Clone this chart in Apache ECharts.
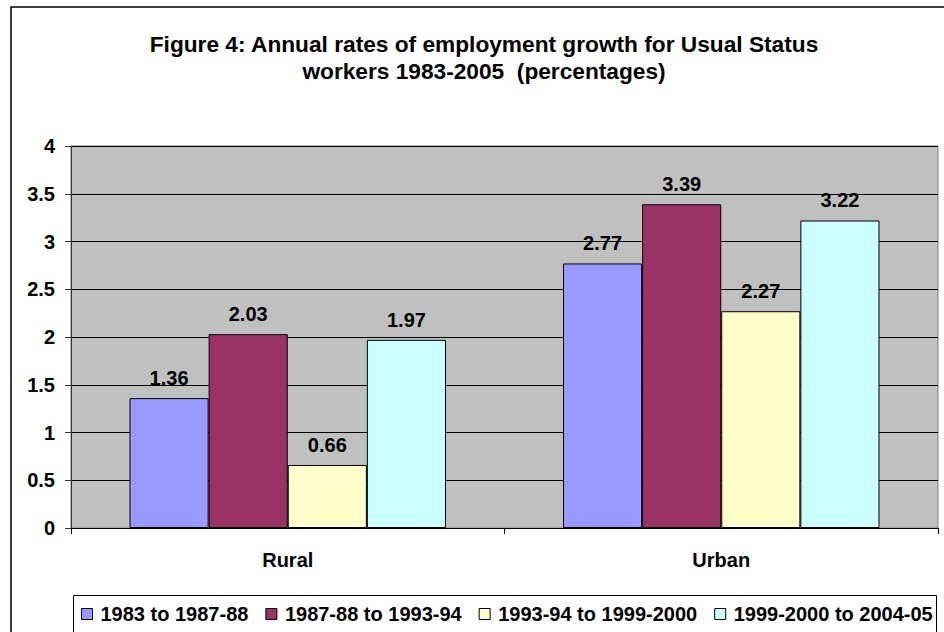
<!DOCTYPE html>
<html>
<head>
<meta charset="utf-8">
<script src="https://cdn.jsdelivr.net/npm/echarts@6/dist/echarts.min.js"></script>
<style>
html,body{margin:0;padding:0;background:#fff;}
#chart{width:944px;height:632px;}
</style>
</head>
<body>
<div id="chart"></div>
<script>
var titleText = 'Figure 4: Annual rates of employment growth for Usual Status\nworkers 1983-2005  (percentages)';
var categories = ['Rural', 'Urban'];
var seriesNames = ['1983 to 1987-88', '1987-88 to 1993-94', '1993-94 to 1999-2000', '1999-2000 to 2004-05'];
var s1983 = [1.36, 2.77];
var s1987 = [2.03, 3.39];
var s1993 = [0.66, 2.27];
var s1999 = [1.97, 3.22];
var colors = ['#9999FF', '#993366', '#FFFFCC', '#CCFFFF'];
var FONT = '"Liberation Sans", Arial, sans-serif';

var seriesData = [s1983, s1987, s1993, s1999];
var chart = echarts.init(document.getElementById('chart'), null, {renderer: 'svg'});
var series = seriesData.map(function (d, i) {
  return {
    name: seriesNames[i],
    type: 'bar',
    data: d,
    barGap: '0%',
    barCategoryGap: '27%',
    itemStyle: {color: colors[i], borderColor: '#000', borderWidth: 1},
    label: {
      show: true, position: 'top', distance: 10,
      color: '#000', fontFamily: FONT, fontWeight: 'bold', fontSize: 20,
      formatter: function (p) { return p.value.toFixed(2); }
    }
  };
});

chart.setOption({
  backgroundColor: '#fff',
  animation: false,
  title: {
    text: titleText,
    left: 484, top: 30, padding: 0,
    textAlign: 'center',
    textStyle: {fontFamily: FONT, fontWeight: 'bold', fontSize: 22.7, lineHeight: 27, color: '#000'}
  },
  graphic: [
    {type: 'rect', shape: {x: 11, y: 7, width: 1000, height: 1000}, style: {fill: 'none', stroke: '#000', lineWidth: 1.5}, silent: true, z: 100},
    {type: 'rect', shape: {x: 73.5, y: 595.5, width: 863, height: 40}, style: {fill: 'none', stroke: '#000', lineWidth: 1}, silent: true, z: 100}
  ],
  legend: {
    left: 81, top: 604, padding: 0, width: 900,
    itemWidth: 11, itemHeight: 11, itemGap: 17,
    icon: 'rect',
    itemStyle: {borderColor: '#000', borderWidth: 1},
    textStyle: {fontFamily: FONT, fontWeight: 'bold', fontSize: 20, color: '#000', padding: [0, 0, 0, 3]},
    data: seriesNames
  },
  grid: {
    left: 71, right: 6, top: 146, bottom: 104,
    show: true, backgroundColor: '#C0C0C0', borderColor: '#808080', borderWidth: 1,
    containLabel: false
  },
  xAxis: {
    type: 'category',
    data: categories,
    axisLine: {lineStyle: {color: '#000', width: 1}},
    axisTick: {show: true, length: 6, lineStyle: {color: '#000'}},
    axisLabel: {margin: 22, color: '#000', fontFamily: FONT, fontWeight: 'bold', fontSize: 20}
  },
  yAxis: {
    type: 'value',
    min: 0, max: 4, interval: 0.5,
    axisLine: {show: true, lineStyle: {color: '#333', width: 1}},
    axisTick: {show: true, length: 6, lineStyle: {color: '#333'}},
    axisLabel: {margin: 16, color: '#000', fontFamily: FONT, fontWeight: 'bold', fontSize: 20},
    splitLine: {show: true, lineStyle: {color: '#000', width: 1}}
  },
  series: series
});
</script>
</body>
</html>
